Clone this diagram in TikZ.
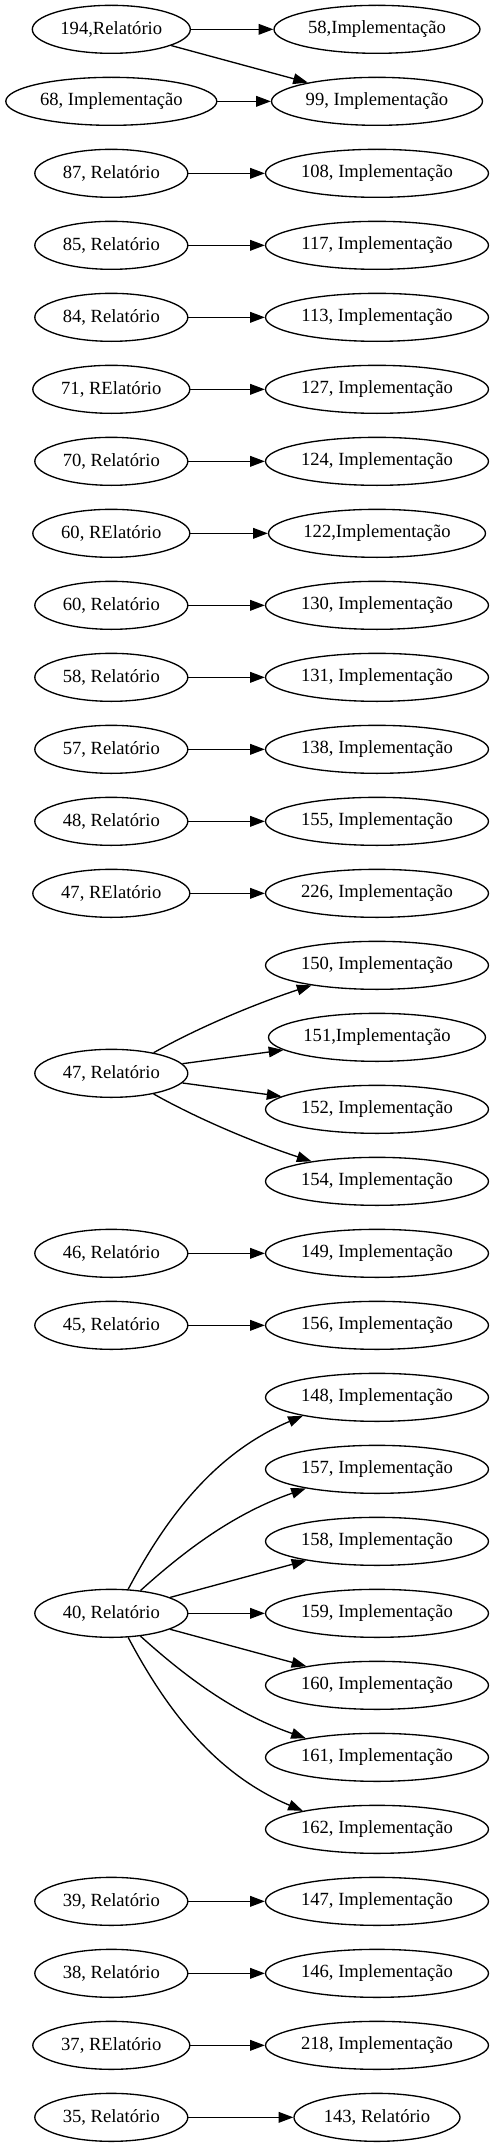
\documentclass[tikz,border=0pt]{standalone}
\usepackage{fontspec}
\setmainfont{Liberation Serif}
\usetikzlibrary{shapes.geometric,arrows.meta}
\begin{document}
\begin{tikzpicture}[x=0.75bp,y=-0.75bp,
  nd/.style={ellipse,draw,line width=1bp,inner sep=0pt,minimum height=36bp,font=\fontsize{14}{17}\selectfont},
  impthree/.style={nd,minimum width=167.25bp},
  imptwo/.style={nd,minimum width=158.25bp},
  imptwons/.style={nd,minimum width=154.5bp},
  impthreens/.style={nd,minimum width=162.75bp},
  rel/.style={nd,minimum width=114.75bp},
  relthreens/.style={nd,minimum width=118.5bp},
  rEl/.style={nd,minimum width=117.75bp},
  relthree/.style={nd,minimum width=124.5bp},
  edge/.style={draw,line width=1bp,-{Triangle[length=11bp,width=8bp]}}]
\useasboundingbox (0,0) rectangle (494,2147);
\def\xl{111.3}\def\xr{377}
% rows
\node[relthreens] (a0) at (\xl,29.33) {194,Relatório};
\node[imptwons] (b0) at (\xr,29.33) {58,Implementação};
\node[imptwo] (a1) at (\xl,101.33) {68, Implementação};
\node[imptwo] (b1) at (\xr,101.33) {99, Implementação};
\node[rel] (a2) at (\xl,173.33) {87, Relatório};
\node[impthree] (b2) at (\xr,173.33) {108, Implementação};
\node[rel] (a3) at (\xl,245.33) {85, Relatório};
\node[impthree] (b3) at (\xr,245.33) {117, Implementação};
\node[rel] (a4) at (\xl,317.33) {84, Relatório};
\node[impthree] (b4) at (\xr,317.33) {113, Implementação};
\node[rEl] (a5) at (\xl,389.33) {71, RElatório};
\node[impthree] (b5) at (\xr,389.33) {127, Implementação};
\node[rel] (a6) at (\xl,461.33) {70, Relatório};
\node[impthree] (b6) at (\xr,461.33) {124, Implementação};
\node[rEl] (a7) at (\xl,533.33) {60, RElatório};
\node[impthreens] (b7) at (\xr,533.33) {122,Implementação};
\node[rel] (a8) at (\xl,605.33) {60, Relatório};
\node[impthree] (b8) at (\xr,605.33) {130, Implementação};
\node[rel] (a9) at (\xl,677.33) {58, Relatório};
\node[impthree] (b9) at (\xr,677.33) {131, Implementação};
\node[rel] (a10) at (\xl,749.33) {57, Relatório};
\node[impthree] (b10) at (\xr,749.33) {138, Implementação};
\node[rel] (a11) at (\xl,821.33) {48, Relatório};
\node[impthree] (b11) at (\xr,821.33) {155, Implementação};
\node[rEl] (a12) at (\xl,893.33) {47, RElatório};
\node[impthree] (b12) at (\xr,893.33) {226, Implementação};
% group 47
\node[rel] (g47) at (\xl,1073.33) {47, Relatório};
\node[impthree] (c150) at (\xr,965.33) {150, Implementação};
\node[impthreens] (c151) at (\xr,1037.33) {151,Implementação};
\node[impthree] (c152) at (\xr,1109.33) {152, Implementação};
\node[impthree] (c154) at (\xr,1181.33) {154, Implementação};
\node[rel] (a17) at (\xl,1253.33) {46, Relatório};
\node[impthree] (b17) at (\xr,1253.33) {149, Implementação};
\node[rel] (a18) at (\xl,1325.33) {45, Relatório};
\node[impthree] (b18) at (\xr,1325.33) {156, Implementação};
% group 40
\node[rel] (g40) at (\xl,1613.33) {40, Relatório};
\node[impthree] (d148) at (\xr,1397.33) {148, Implementação};
\node[impthree] (d157) at (\xr,1469.33) {157, Implementação};
\node[impthree] (d158) at (\xr,1541.33) {158, Implementação};
\node[impthree] (d159) at (\xr,1613.33) {159, Implementação};
\node[impthree] (d160) at (\xr,1685.33) {160, Implementação};
\node[impthree] (d161) at (\xr,1757.33) {161, Implementação};
\node[impthree] (d162) at (\xr,1829.33) {162, Implementação};
\node[rel] (a26) at (\xl,1901.33) {39, Relatório};
\node[impthree] (b26) at (\xr,1901.33) {147, Implementação};
\node[rel] (a27) at (\xl,1973.33) {38, Relatório};
\node[impthree] (b27) at (\xr,1973.33) {146, Implementação};
\node[rEl] (a28) at (\xl,2045.33) {37, RElatório};
\node[impthree] (b28) at (\xr,2045.33) {218, Implementação};
\node[rel] (a29) at (\xl,2117.33) {35, Relatório};
\node[relthree] (b29) at (\xr,2117.33) {143, Relatório};
% edges
\foreach \i in {0,2,3,4,5,6,7,8,9,10,11,12,17,18,26,27,28,29}{
  \draw[edge] (a\i) -- (b\i);
}
\draw[edge] (a0) -- (b1);
\draw[edge] (a1) -- (b1);
% 47 group
\draw[edge] (g47.26) .. controls +(48,-27) and +(-52,17) .. (c150.197);
\draw[edge] (g47) -- (c151);
\draw[edge] (g47) -- (c152);
\draw[edge] (g47.-26) .. controls +(48,27) and +(-52,-17) .. (c154.163);
% 40 group
\draw[edge] (g40.55) .. controls +(42,-79.5) and +(-83,35) .. (d148.194);
\draw[edge] (g40.38) .. controls +(52,-47) and +(-66,23) .. (d157.195);
\draw[edge] (g40) -- (d158);
\draw[edge] (g40) -- (d159);
\draw[edge] (g40) -- (d160);
\draw[edge] (g40.-38) .. controls +(52,47) and +(-66,-23) .. (d161.165);
\draw[edge] (g40.-55) .. controls +(42,79.5) and +(-83,-35) .. (d162.166);
\end{tikzpicture}
\end{document}
